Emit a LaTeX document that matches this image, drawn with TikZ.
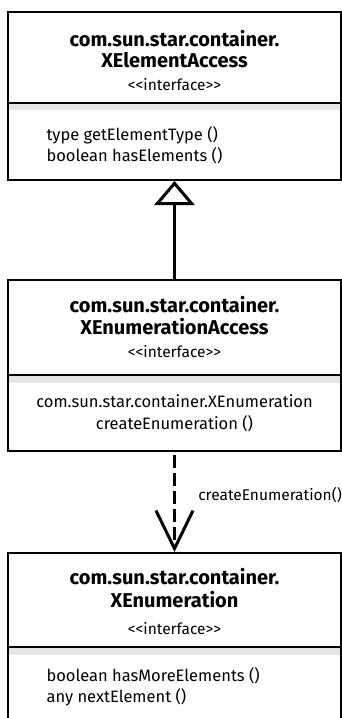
\documentclass[tikz,border=0pt]{standalone}
\usepackage{fontspec}
\setmainfont{Fira Sans}
\usetikzlibrary{arrows.meta}

\tikzset{
  classbox/.style={draw, line width=2pt, minimum width=333pt, inner sep=0pt},
  classname/.style={anchor=base, font=\fontsize{20}{22}\selectfont\bfseries},
  stereo/.style={anchor=base, font=\fontsize{15.5}{17}\selectfont},
  member/.style={anchor=base west, font=\fontsize{16.5}{18}\selectfont},
  msglabel/.style={font=\fontsize{15.5}{17}\selectfont},
}

\begin{document}
\begin{tikzpicture}[x=1pt,y=-1pt]
  \path[use as bounding box, clip] (0,0) rectangle (342,718);

  % XElementAccess
  \node[classbox, minimum height=168pt] (access) at (174.5,96) {};
  \fill[black!10] (9,104) rectangle (340,110);
  \draw[line width=2pt] (8,103) -- (341,103);
  \node[classname] (accessns) at (174.5,46) {com.sun.star.container.};
  \node[classname] (accessname) at (174.5,67) {XElementAccess};
  \node[stereo] (accessstereo) at (174.5,90) {<{}<interface>{}>};
  \node[member] (accessop1) at (43,140) {type getElementType ()};
  \node[member] (accessop2) at (43,161) {boolean hasElements ()};

  % XEnumerationAccess
  \node[classbox, minimum height=171pt] (enumaccess) at (174.5,365.5) {};
  \fill[black!10] (9,376) rectangle (340,383);
  \draw[line width=2pt] (8,375) -- (341,375);
  \node[classname] (enumaccessns) at (174.5,312) {com.sun.star.container.};
  \node[classname] (enumaccessname) at (174.5,334) {XEnumerationAccess};
  \node[stereo] (enumaccessstereo) at (174.5,357) {<{}<interface>{}>};
  \node[member, anchor=base] (enumaccessop1) at (174.5,407) {com.sun.star.container.XEnumeration};
  \node[member, anchor=base] (enumaccessop2) at (174.5,429) {createEnumeration ()};

  % XEnumeration
  \node[classbox, minimum height=177pt] (enum) at (174.5,641.5) {};
  \fill[black!10] (9,648) rectangle (340,655);
  \draw[line width=2pt] (8,647) -- (341,647);
  \node[classname] (enumns) at (174.5,584) {com.sun.star.container.};
  \node[classname] (enumname) at (174.5,607) {XEnumeration};
  \node[stereo] (enumstereo) at (174.5,634) {<{}<interface>{}>};
  \node[member] (enumop1) at (43,681) {boolean hasMoreElements ()};
  \node[member] (enumop2) at (43,702) {any nextElement ()};

  % inheritance
  \draw[line width=3pt, -{Triangle[open, length=24pt, width=40pt]}] (enumaccess.north) -- (access.south);

  % dependency
  \draw[line width=3pt, dash pattern=on 13pt off 5pt, shorten <=3pt,
        -{Straight Barb[length=38pt, width=37pt]}]
    (enumaccess.south) -- node[msglabel, pos=0.43, right=19pt] (createlabel) {createEnumeration()} (enum.north);
\end{tikzpicture}
\end{document}
